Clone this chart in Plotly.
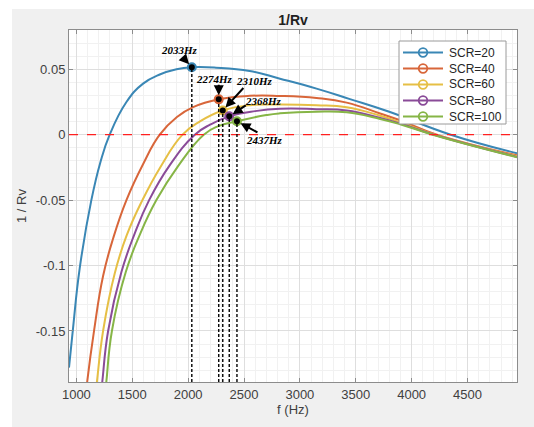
import plotly.graph_objects as go

# ---------------- data ----------------
names = ["SCR=20", "SCR=40", "SCR=60", "SCR=80", "SCR=100"]
colors = ["#3a87b5", "#d8663a", "#e6bf45", "#8a4b98", "#86b546"]

f_scr20 = [934, 970, 1030, 1134, 1215, 1298, 1448, 1597, 1746, 1896, 2033, 2250, 2550, 2822, 3149, 3448, 3800, 4350, 4943]
v_scr20 = [-0.178, -0.148, -0.102, -0.05, -0.021, 0.0, 0.025, 0.039, 0.046, 0.050, 0.0515, 0.0512, 0.0487, 0.0428, 0.0352, 0.0272, 0.0175, 0.0, -0.0142]

f_scr40 = [1080, 1098, 1158, 1239, 1330, 1448, 1600, 1746, 1900, 2045, 2274, 2552, 2822, 3149, 3419, 3718, 3897, 4226, 4943]
v_scr40 = [-0.203, -0.188, -0.150, -0.108, -0.079, -0.05, -0.022, 0.0, 0.0135, 0.021, 0.027, 0.0297, 0.0296, 0.028, 0.0245, 0.0162, 0.011, 0.0, -0.0158]

f_scr60 = [1170, 1185, 1239, 1343, 1450, 1591, 1750, 1950, 2106, 2310, 2552, 2822, 3149, 3419, 3718, 3897, 4210, 4943]
v_scr60 = [-0.199, -0.188, -0.15, -0.106, -0.077, -0.05, -0.025, 0.0, 0.0102, 0.0185, 0.0225, 0.023, 0.0225, 0.021, 0.0145, 0.0095, 0.0, -0.0165]

f_scr80 = [1220, 1233, 1284, 1403, 1520, 1651, 1830, 2060, 2200, 2368, 2600, 2822, 3149, 3419, 3718, 3897, 4200, 4943]
v_scr80 = [-0.198, -0.188, -0.15, -0.105, -0.076, -0.05, -0.024, 0.0, 0.0078, 0.014, 0.018, 0.0198, 0.0195, 0.0185, 0.0128, 0.0085, 0.0, -0.017]

f_scr100 = [1255, 1269, 1318, 1442, 1570, 1716, 1910, 2140, 2270, 2437, 2700, 2822, 3149, 3419, 3718, 3897, 4190, 4943]
v_scr100 = [-0.199, -0.188, -0.15, -0.105, -0.076, -0.05, -0.024, 0.0, 0.0065, 0.0103, 0.015, 0.0163, 0.0176, 0.0171, 0.012, 0.008, 0.0, -0.0172]

mark_freqs = [2033, 2274, 2310, 2368, 2437]
mark_vals = [0.0515, 0.027, 0.0185, 0.014, 0.0103]
mark_labels = ["2033Hz", "2274Hz", "2310Hz", "2368Hz", "2437Hz"]

x_ticks = [1000, 1500, 2000, 2500, 3000, 3500, 4000, 4500]
y_ticks = [-0.15, -0.1, -0.05, 0, 0.05]
y_ticklabels = ["-0.15", "-0.1", "-0.05", "0", "0.05"]

x_range = [934, 4943]
y_range = [-0.189, 0.080]

# ---------------- figure ----------------
freqs = [f_scr20, f_scr40, f_scr60, f_scr80, f_scr100]
vals = [v_scr20, v_scr40, v_scr60, v_scr80, v_scr100]

fig = go.Figure()
for name, f, v, c in zip(names, freqs, vals, colors):
    fig.add_trace(go.Scatter(x=f, y=v, mode="lines", name=name, showlegend=False, hoverinfo="skip",
                             line=dict(color=c, width=2, shape="spline", smoothing=1.3)))

W, H = 534, 427
ml, mr, mt, mb = 69, 17, 30, 45
pw, ph = W - ml - mr, H - mt - mb
def px2paper_x(px): return (px - ml) / pw
def px2paper_y(py): return (H - mb - py) / ph

shapes = []
# white strips of the original image outside the grey figure area
shapes.append(dict(type="rect", xref="paper", yref="paper", layer="below",
                   x0=px2paper_x(0), x1=px2paper_x(12), y0=px2paper_y(H), y1=px2paper_y(0),
                   fillcolor="white", line=dict(width=0)))
shapes.append(dict(type="rect", xref="paper", yref="paper", layer="below",
                   x0=px2paper_x(0), x1=px2paper_x(W), y0=px2paper_y(9), y1=px2paper_y(0),
                   fillcolor="white", line=dict(width=0)))
# red zero line
shapes.append(dict(type="line", xref="paper", yref="y", x0=0, x1=1, y0=0, y1=0,
                   line=dict(color="#ff2020", width=1.2, dash="dash")))
# vertical dashed lines down from the marked points
for fx, vy in zip(mark_freqs, mark_vals):
    shapes.append(dict(type="line", xref="x", yref="y", x0=fx, x1=fx, y0=y_range[0], y1=vy,
                       line=dict(color="black", width=1.4, dash="3px,2px")))

# marked points
fig.add_trace(go.Scatter(x=mark_freqs, y=mark_vals, mode="markers", showlegend=False, hoverinfo="skip",
                         marker=dict(color="black", size=8, line=dict(color=colors, width=2))))

annotations = []
text_shift = [(-12, 17), (-4, 20), (32, 29), (34, 15), (28, -19)]
arrow_tail = [(-10, -11), (0, -16), (22, -24), (18, -12), (22, 12)]
for fx, vy, lab, (sx, sy), (ax, ay) in zip(mark_freqs, mark_vals, mark_labels, text_shift, arrow_tail):
    annotations.append(dict(x=fx, y=vy, xref="x", yref="y", text="<b><i>%s</i></b>" % lab,
                            showarrow=False, xshift=sx, yshift=sy,
                            font=dict(family="Liberation Serif", size=11, color="black")))
    annotations.append(dict(x=fx, y=vy, xref="x", yref="y", text="", showarrow=True,
                            ax=ax, ay=ay, arrowhead=2, arrowsize=1, arrowwidth=2,
                            arrowcolor="black", standoff=4))

# compact MATLAB-style legend box (line with open circle + label)
leg_x0, leg_x1, leg_y0, leg_y1 = 399, 506, 41, 124
shapes.append(dict(type="rect", xref="paper", yref="paper",
                   x0=px2paper_x(leg_x0), x1=px2paper_x(leg_x1), y0=px2paper_y(leg_y1), y1=px2paper_y(leg_y0),
                   fillcolor="white", line=dict(color="#9a9a9a", width=1)))
for i, (name, c) in enumerate(zip(names, colors)):
    row = 52.5 + 16 * i
    shapes.append(dict(type="line", xref="paper", yref="paper",
                       x0=px2paper_x(403), x1=px2paper_x(443), y0=px2paper_y(row), y1=px2paper_y(row),
                       line=dict(color=c, width=2)))
    shapes.append(dict(type="circle", xref="paper", yref="paper", xsizemode="pixel", ysizemode="pixel",
                       xanchor=px2paper_x(423), yanchor=px2paper_y(row), x0=-4.3, x1=4.3, y0=-4.3, y1=4.3,
                       fillcolor="rgba(0,0,0,0)", line=dict(color=c, width=1.8)))
    annotations.append(dict(xref="paper", yref="paper", x=px2paper_x(447), y=px2paper_y(row),
                            xanchor="left", yanchor="middle", text=name, showarrow=False,
                            font=dict(family="Liberation Sans", size=12, color="#262626")))

axis_common = dict(showline=True, linecolor="#8c8c8c", linewidth=1, mirror="ticks",
                   ticks="inside", ticklen=4, tickcolor="#8c8c8c",
                   showgrid=True, gridcolor="#dedede", gridwidth=1, zeroline=False,
                   tickfont=dict(family="Liberation Sans", size=13, color="#404040"))

fig.update_layout(
    width=W, height=H,
    margin=dict(l=ml, r=mr, t=mt, b=mb),
    paper_bgcolor="#f0f0f0", plot_bgcolor="white",
    showlegend=False,
    title=dict(text="<b>1/Rv</b>", x=0.5, xref="paper", xanchor="center", y=1 - 20 / H, yanchor="middle",
               font=dict(family="Liberation Sans", size=14, color="#202020")),
    xaxis=dict(range=x_range, tickvals=x_ticks,
               title=dict(text="f (Hz)", standoff=4, font=dict(family="Liberation Sans", size=13, color="#404040")),
               minor=dict(dtick=100, tick0=1000, showgrid=True, gridcolor="#f1f1f1", ticks=""),
               **axis_common),
    yaxis=dict(range=y_range, tickvals=y_ticks, ticktext=y_ticklabels,
               title=dict(text="1 / Rv", standoff=6, font=dict(family="Liberation Sans", size=13, color="#404040")),
               minor=dict(dtick=0.01, tick0=0, showgrid=True, gridcolor="#f1f1f1", ticks=""),
               **axis_common),
    shapes=shapes,
    annotations=annotations,
)

fig.write_html("out.html")
